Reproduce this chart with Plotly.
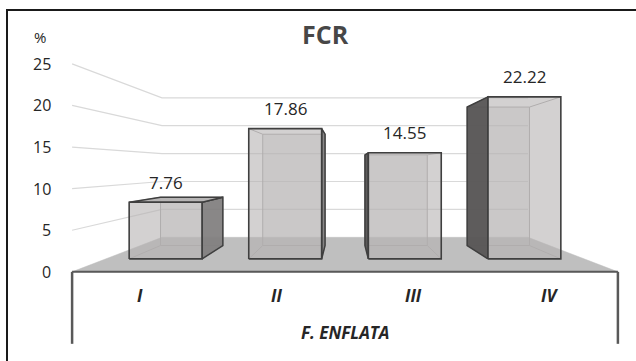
import plotly.graph_objects as go

# ---- data ----
categories = ["I", "II", "III", "IV"]
fcr = [7.76, 17.86, 14.55, 22.22]
y_ticks = [0, 5, 10, 15, 20, 25]
title_text = "FCR"
x_title = "F. ENFLATA"
y_unit = "%"

# ---- page / perspective camera ----
W, H = 636, 361
VX, HY = 345.0, 167.0      # vanishing point on the page (px)
EYE = 12.6                 # eye height, in value units
S0 = 8.32                  # px per value unit at the floor's front edge
CAM = 100.0                # camera distance to the front edge (value units)
Z_EDGE, Z_BAR0, Z_BAR1, Z_WALL = 0.0, 14.1, 33.5, 49.1
STEP = 16.4                # spacing between category centres
BAR_W = 10.0               # bar width
HALF = 32.8                # half width of the floor
AXIS_DROP = 72             # length of the category-axis side lines (px)

FONT = "Open Sans"
TXT = "#262626"


def proj(X, Y, z):
    """Perspective projection of a world point onto page pixels."""
    s = S0 * CAM / (CAM + z)
    return VX + X * s, HY - (Y - EYE) * s


fig = go.Figure()


def poly(pts, fill=None, line="rgba(0,0,0,0)", width=1.0, closed=True):
    xs = [p[0] for p in pts]
    ys = [p[1] for p in pts]
    if closed:
        xs.append(xs[0])
        ys.append(ys[0])
    fig.add_trace(go.Scatter(
        x=xs, y=ys, mode="lines",
        fill="toself" if fill else None,
        fillcolor=fill,
        line=dict(color=line, width=width),
        hoverinfo="skip", showlegend=False,
    ))


# gridlines on the left wall and the back wall
for v in y_ticks[1:]:
    poly([proj(-HALF, v, Z_EDGE), proj(-HALF, v, Z_WALL), proj(HALF, v, Z_WALL)],
         line="#d9d9d9", width=1.2, closed=False)

# floor
floor = [proj(-HALF, 0, Z_EDGE), proj(-HALF, 0, Z_WALL),
         proj(HALF, 0, Z_WALL), proj(HALF, 0, Z_EDGE)]
poly(floor, fill="#bfbfbf", line="#bfbfbf", width=0.5)

# category axis: front edge plus the two side drops
xl, y0 = proj(-HALF, 0, Z_EDGE)
xr, _ = proj(HALF, 0, Z_EDGE)
poly([(xl, y0), (xr, y0)], line="#595959", width=2, closed=False)
poly([(xl, y0), (xl, y0 + AXIS_DROP)], line="#595959", width=2.5, closed=False)
poly([(xr, y0), (xr, y0 + AXIS_DROP)], line="#595959", width=2.5, closed=False)

# 3-D bars
n = len(categories)
centres = [(i - (n - 1) / 2) * STEP for i in range(n)]
for xc, val in zip(centres, fcr):
    xa, xb = xc - BAR_W / 2, xc + BAR_W / 2

    fbl, fbr = proj(xa, 0, Z_BAR0), proj(xb, 0, Z_BAR0)
    ftl, ftr = proj(xa, val, Z_BAR0), proj(xb, val, Z_BAR0)
    bbl, bbr = proj(xa, 0, Z_BAR1), proj(xb, 0, Z_BAR1)
    btl, btr = proj(xa, val, Z_BAR1), proj(xb, val, Z_BAR1)

    # back face + hidden edges seen through the translucent box
    poly([bbl, bbr, btr, btl], fill="rgba(190,188,188,0.35)", line="#a8a6a6", width=1)
    for a, b in [(fbl, bbl), (fbr, bbr), (ftl, btl), (ftr, btr)]:
        poly([a, b], line="#a8a6a6", width=1, closed=False)

    # outer side face facing the viewer
    if xb < 0:
        poly([fbr, bbr, btr, ftr], fill="rgba(128,126,126,0.92)", line="#3f3f3f", width=1.5)
    elif xa > 0:
        poly([fbl, bbl, btl, ftl], fill="rgba(86,84,84,0.95)", line="#3f3f3f", width=1.5)

    # top face when the eye is above it
    if val < EYE:
        poly([ftl, ftr, btr, btl], fill="rgba(180,178,178,0.95)", line="#3f3f3f", width=1.5)

    # translucent front face
    poly([fbl, fbr, ftr, ftl], fill="rgba(182,179,179,0.6)", line="#3f3f3f", width=1.6)

    # value label
    lx, ly = proj(xc, val, Z_BAR0)
    fig.add_annotation(x=lx, y=ly - 20, text=f"{val:.2f}", showarrow=False,
                       xanchor="center", yanchor="middle",
                       font=dict(family=FONT, size=17, color=TXT))

# value-axis tick labels on the front edge
for v in y_ticks:
    tx, ty = proj(-HALF, v, Z_EDGE)
    fig.add_annotation(x=tx - 19, y=ty, text=str(v), showarrow=False,
                       xanchor="right", yanchor="middle",
                       font=dict(family=FONT, size=16, color=TXT))
tx, ty = proj(-HALF, y_ticks[-1], Z_EDGE)
fig.add_annotation(x=tx - 24, y=ty - 27, text=y_unit, showarrow=False,
                   xanchor="right", yanchor="middle",
                   font=dict(family=FONT, size=15, color=TXT))

# category labels
for xc, cat in zip(centres, categories):
    cx, cy = proj(xc, 0, Z_EDGE)
    fig.add_annotation(x=cx, y=cy + 24, text=f"<b><i>{cat}</i></b>", showarrow=False,
                       xanchor="center", yanchor="middle",
                       font=dict(family=FONT, size=17, color=TXT))
fig.add_annotation(x=VX, y=y0 + 61, text=f"<b><i>{x_title}</i></b>", showarrow=False,
                   xanchor="center", yanchor="middle",
                   font=dict(family=FONT, size=17, color=TXT))

# chart title
fig.add_annotation(x=325, y=34, text=f"<b>{title_text}</b>", showarrow=False,
                   xanchor="center", yanchor="middle",
                   font=dict(family=FONT, size=25, color="#474747"))

# chart frame
fig.add_shape(type="rect", xref="x", yref="y", x0=7, y0=10, x1=W + 10, y1=H + 10,
              line=dict(color="#1a1a1a", width=2), fillcolor="rgba(0,0,0,0)", layer="above")

fig.update_layout(
    width=W, height=H, autosize=False,
    margin=dict(l=0, r=0, t=0, b=0, pad=0),
    paper_bgcolor="white", plot_bgcolor="white",
    xaxis=dict(range=[0, W], visible=False, fixedrange=True),
    yaxis=dict(range=[H, 0], visible=False, fixedrange=True),
)

fig.write_html("out.html")
